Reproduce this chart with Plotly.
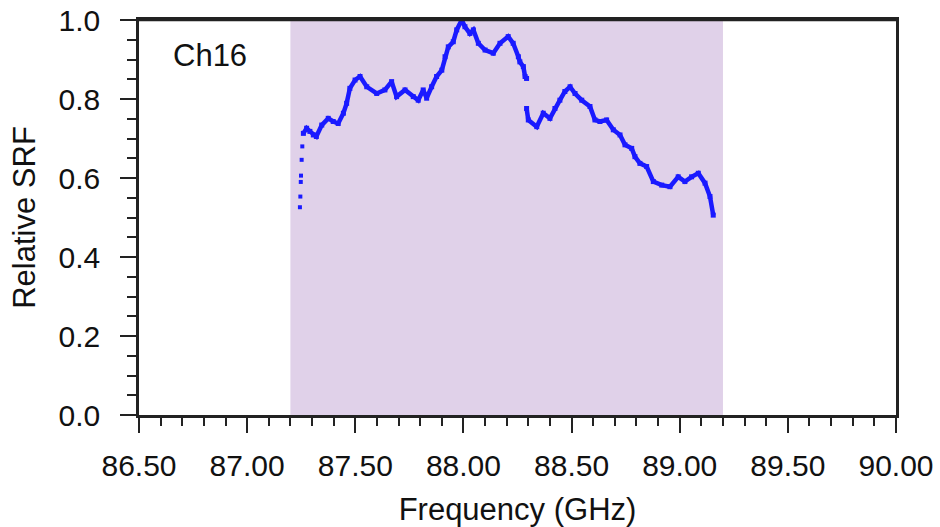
import plotly.graph_objects as go

# Frequency (GHz) and relative SRF
freq_low = [87.244, 87.246, 87.248, 87.249, 87.252, 87.255]
srf_low = [0.526, 0.553, 0.590, 0.606, 0.646, 0.680]

freq_a = [87.260, 87.275, 87.290, 87.306, 87.320, 87.345, 87.375, 87.398, 87.421,
          87.445, 87.460, 87.475, 87.499, 87.522, 87.553, 87.599, 87.637, 87.668,
          87.691, 87.730, 87.768, 87.791, 87.814, 87.830, 87.853, 87.876, 87.900,
          87.915, 87.930, 87.953, 87.969, 87.992, 88.007, 88.030, 88.046, 88.069,
          88.100, 88.138, 88.169, 88.207, 88.230, 88.254, 88.261, 88.277, 88.285, 88.292]
srf_a = [0.713, 0.726, 0.718, 0.709, 0.705, 0.734, 0.751, 0.743, 0.738,
         0.764, 0.789, 0.827, 0.848, 0.857, 0.831, 0.814, 0.823, 0.844,
         0.806, 0.823, 0.806, 0.797, 0.823, 0.802, 0.831, 0.857, 0.873,
         0.907, 0.932, 0.945, 0.975, 1.000, 0.983, 0.966, 0.975, 0.941,
         0.924, 0.916, 0.941, 0.958, 0.941, 0.907, 0.894, 0.882, 0.857, 0.852]

freq_b = [88.292, 88.300, 88.339, 88.369, 88.400, 88.423, 88.446, 88.469, 88.493,
          88.516, 88.547, 88.585, 88.608, 88.631, 88.662, 88.693, 88.724, 88.747,
          88.778, 88.793, 88.816, 88.847, 88.878, 88.917, 88.955, 88.993, 89.024,
          89.055, 89.086, 89.117, 89.140, 89.155]
srf_b = [0.776, 0.747, 0.730, 0.764, 0.751, 0.776, 0.797, 0.819, 0.831,
         0.814, 0.797, 0.781, 0.747, 0.743, 0.747, 0.722, 0.709, 0.684,
         0.675, 0.654, 0.637, 0.629, 0.591, 0.582, 0.578, 0.603, 0.591,
         0.603, 0.612, 0.587, 0.553, 0.506]

band = [87.2, 89.2]
x_ticks = [86.5, 87.0, 87.5, 88.0, 88.5, 89.0, 89.5, 90.0]
y_ticks = [0.0, 0.2, 0.4, 0.6, 0.8, 1.0]
label = "Ch16"

BLUE = "#1a1aff"
FONT = "Liberation Sans, Arial, sans-serif"
TICK_SIZE = 30
TITLE_SIZE = 31
AXIS = "#222"

fig = go.Figure()
fig.add_shape(type="rect", xref="x", yref="y", x0=band[0], x1=band[1], y0=0, y1=1,
              fillcolor="#e0d1e9", line_width=0, layer="below")

fig.add_trace(go.Scatter(x=freq_low, y=srf_low, mode="markers",
                         marker=dict(symbol="square", size=4, color=BLUE),
                         showlegend=False))
for fx, fy in [(freq_a, srf_a), (freq_b, srf_b)]:
    fig.add_trace(go.Scatter(x=fx, y=fy, mode="lines+markers",
                             line=dict(color=BLUE, width=4.5),
                             marker=dict(symbol="square", size=5, color=BLUE),
                             showlegend=False))

# frame top edge (drawn explicitly so it is never hidden)
fig.add_shape(type="line", xref="paper", yref="paper", x0=0, x1=1, y0=1, y1=1,
              line=dict(color=AXIS, width=2.5), layer="above")

fig.add_annotation(x=0.094, y=0.911, xref="paper", yref="paper", text=label,
                   showarrow=False, xanchor="center", yanchor="middle",
                   font=dict(size=TITLE_SIZE, color="#111", family=FONT))

axis_common = dict(showline=True, linecolor=AXIS, linewidth=2.5, mirror=True,
                   ticks="outside", tickcolor=AXIS, tickwidth=2, showgrid=False,
                   zeroline=False, automargin=False, ticklabeloverflow="allow",
                   tickfont=dict(size=TICK_SIZE, color="#111", family=FONT))

fig.update_xaxes(range=[86.5, 90.0], tickvals=x_ticks, tickformat=".2f", ticklen=15,
                 ticklabelstandoff=7,
                 minor=dict(dtick=0.1, ticklen=8, ticks="outside", tickcolor=AXIS, tickwidth=2),
                 title=dict(text="Frequency (GHz)", font=dict(size=TITLE_SIZE, color="#111", family=FONT), standoff=18),
                 **axis_common)
fig.update_yaxes(range=[0, 1.0], tickvals=y_ticks, tickformat=".1f", ticklen=16,
                 ticklabelstandoff=14,
                 minor=dict(dtick=0.05, ticklen=9, ticks="outside", tickcolor=AXIS, tickwidth=2),
                 title=dict(text="Relative SRF", font=dict(size=TITLE_SIZE, color="#111", family=FONT), standoff=14),
                 **axis_common)

fig.update_layout(width=940, height=527, margin=dict(l=139, r=44, t=20, b=112),
                  plot_bgcolor="white", paper_bgcolor="white")

# remove the page's default body margin so the figure fills the window exactly
fig.write_html("out.html", config={"displayModeBar": False},
               post_script="document.body.style.margin='0px';")
